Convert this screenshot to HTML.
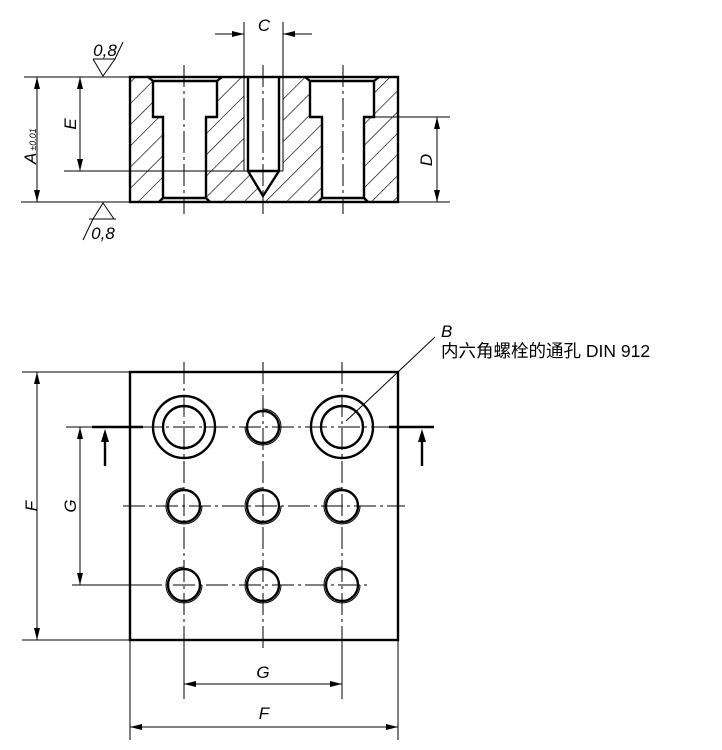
<!DOCTYPE html>
<html><head><meta charset="utf-8"><style>
html,body{margin:0;padding:0;background:#fff;width:722px;height:750px;overflow:hidden}
svg{display:block}
text{font-family:"Liberation Sans","Noto Sans CJK SC",sans-serif;fill:#000}
.it{font-style:italic}
</style></head><body>
<svg width="722" height="750" viewBox="0 0 722 750" xmlns="http://www.w3.org/2000/svg">
<defs>
<pattern id="h" patternUnits="userSpaceOnUse" width="15" height="15" patternTransform="rotate(45)">
<line x1="0" y1="0" x2="0" y2="15" stroke="#000" stroke-width="1.3"/>
</pattern>
<marker id="a" viewBox="0 0 12 6" refX="12" refY="3" markerWidth="12" markerHeight="6" orient="auto" markerUnits="userSpaceOnUse"><path d="M0,0 L12,3 L0,6z" fill="#000"/></marker>
<marker id="a2" viewBox="0 0 12 6" refX="0" refY="3" markerWidth="12" markerHeight="6" orient="auto" markerUnits="userSpaceOnUse"><path d="M12,0 L0,3 L12,6z" fill="#000"/></marker>
</defs>

<!-- ===== Section view ===== -->
<rect x="130" y="77" width="268" height="125" fill="url(#h)"/>
<g fill="#fff" stroke="none">
<path d="M148,77 L153,81 V117 H163 V198 L159,202 H210 L206,198 V117 H217 V81 L222,77z"/>
<path d="M305,77 L310,81 V117 H322 V198 L318,202 H368 L364,198 V117 H374 V81 L379,77z"/>
<path d="M244,77 H283 V171 H279 L263,196 L248,171 H244z"/>
</g>
<g stroke="#000" fill="none" stroke-width="2.4">
<rect x="130" y="77" width="268" height="125"/>
<path d="M148,77 L153,81 V117 H163 V198 M153,81 H217 M217,81 L222,77 M217,81 V117 H206 V198 M163,198 H206 M159,202 L163,198 M210,202 L206,198"/>
<path d="M305,77 L310,81 V117 H322 V198 M310,81 H374 M374,81 L379,77 M374,81 V117 H364 V198 M322,198 H364 M318,202 L322,198 M368,202 L364,198"/>
<path d="M248,77 V171 L263,196 L279,171 V77 M248,171 H279"/>
</g>
<g stroke="#000" fill="none" stroke-width="1">
<path d="M244,77 V171 M283,77 V171 M244,171 H283"/>
<g stroke-dasharray="22,4,3,4">
<line x1="184" y1="65" x2="184" y2="214"/>
<line x1="263" y1="65" x2="263" y2="214"/>
<line x1="343" y1="65" x2="343" y2="214"/>
</g>
<line x1="244" y1="22" x2="244" y2="77"/>
<line x1="283" y1="22" x2="283" y2="77"/>
<line x1="215" y1="34" x2="244" y2="34" marker-end="url(#a)"/>
<line x1="312" y1="34" x2="283" y2="34" marker-end="url(#a)"/>
<line x1="24" y1="77" x2="130" y2="77"/>
<line x1="21" y1="202" x2="130" y2="202"/>
<line x1="398" y1="202" x2="450" y2="202"/>
<line x1="64" y1="171" x2="244" y2="171"/>
<line x1="374" y1="117" x2="450" y2="117"/>
<line x1="37" y1="77" x2="37" y2="202" marker-start="url(#a2)" marker-end="url(#a)"/>
<line x1="80" y1="77" x2="80" y2="171" marker-start="url(#a2)" marker-end="url(#a)"/>
<line x1="437" y1="117" x2="437" y2="202" marker-start="url(#a2)" marker-end="url(#a)"/>
<path d="M93,59 L103,76 L115,59 L123,42 M93,59 H115"/>
<path d="M103,203 L93,219 H114 z M93,219 L83,240 M89,219 H116"/>
</g>
<text x="264" y="31" font-size="17" class="it" text-anchor="middle">C</text>
<text x="105" y="56" font-size="17" class="it" text-anchor="middle">0,8</text>
<text x="103" y="239" font-size="17" class="it" text-anchor="middle">0,8</text>
<text transform="translate(36,164) rotate(-90)" font-size="17" class="it">A<tspan font-size="9" dx="2">±0,01</tspan></text>
<text transform="translate(76,124) rotate(-90)" font-size="17" class="it" text-anchor="middle">E</text>
<text transform="translate(432,160) rotate(-90)" font-size="17" class="it" text-anchor="middle">D</text>

<!-- ===== Plan view ===== -->
<g stroke="#000" fill="none" stroke-width="1">
<g stroke-dasharray="22,4,3,4">
<line x1="184" y1="362" x2="184" y2="648"/>
<line x1="263" y1="362" x2="263" y2="648"/>
<line x1="342" y1="362" x2="342" y2="648"/>
<line x1="140" y1="427" x2="390" y2="427"/>
<line x1="123" y1="506" x2="405" y2="506"/>
<line x1="140" y1="585" x2="370" y2="585"/>
</g>
<line x1="22" y1="372" x2="130" y2="372"/>
<line x1="22" y1="640" x2="130" y2="640"/>
<line x1="37" y1="372" x2="37" y2="640" marker-start="url(#a2)" marker-end="url(#a)"/>
<line x1="66" y1="427" x2="92" y2="427"/>
<line x1="72" y1="585" x2="160" y2="585"/>
<line x1="80" y1="427" x2="80" y2="585" marker-start="url(#a2)" marker-end="url(#a)"/>
<line x1="184" y1="640" x2="184" y2="699"/>
<line x1="342" y1="640" x2="342" y2="699"/>
<line x1="184" y1="684" x2="342" y2="684" marker-start="url(#a2)" marker-end="url(#a)"/>
<line x1="130" y1="640" x2="130" y2="740"/>
<line x1="398" y1="640" x2="398" y2="740"/>
<line x1="130" y1="727" x2="398" y2="727" marker-start="url(#a2)" marker-end="url(#a)"/>
<line x1="435" y1="337" x2="346" y2="421"/>
<g>
<path d="M263,409 A18,18 0 1 1 245,427"/>
<path d="M184,488 A18,18 0 1 0 202,506"/>
<path d="M263,488 A18,18 0 1 0 281,506"/>
<path d="M342,488 A18,18 0 1 0 360,506"/>
<path d="M184,567 A18,18 0 1 0 202,585"/>
<path d="M263,567 A18,18 0 1 0 281,585"/>
<path d="M342,567 A18,18 0 1 0 360,585"/>
</g>
</g>
<g stroke="#000" fill="none" stroke-width="2.4">
<rect x="130" y="372" width="268" height="268"/>
<circle cx="184" cy="427" r="31"/><circle cx="184" cy="427" r="21"/>
<circle cx="342" cy="427" r="31"/><circle cx="342" cy="427" r="21"/>
<circle cx="263" cy="427" r="16"/>
<circle cx="184" cy="506" r="16"/><circle cx="263" cy="506" r="16"/><circle cx="342" cy="506" r="16"/>
<circle cx="184" cy="585" r="16"/><circle cx="263" cy="585" r="16"/><circle cx="342" cy="585" r="16"/>
<line x1="92" y1="427" x2="143" y2="427"/>
<line x1="389" y1="427" x2="434" y2="427"/>
<line x1="105" y1="440" x2="105" y2="466"/>
<line x1="422" y1="440" x2="422" y2="466"/>
</g>
<path d="M105,429 L101,442 L109,442z M422,429 L418,442 L426,442z" fill="#000"/>
<text transform="translate(37,506) rotate(-90)" font-size="17" class="it" text-anchor="middle">F</text>
<text transform="translate(76,506) rotate(-90)" font-size="17" class="it" text-anchor="middle">G</text>
<text x="263" y="678" font-size="17" class="it" text-anchor="middle">G</text>
<text x="264" y="719" font-size="17" class="it" text-anchor="middle">F</text>
<text x="441" y="337" font-size="17" class="it">B</text>
<text x="441" y="357" font-size="17.5">内六角螺栓的通孔 DIN 912</text>
</svg>
</body></html>
